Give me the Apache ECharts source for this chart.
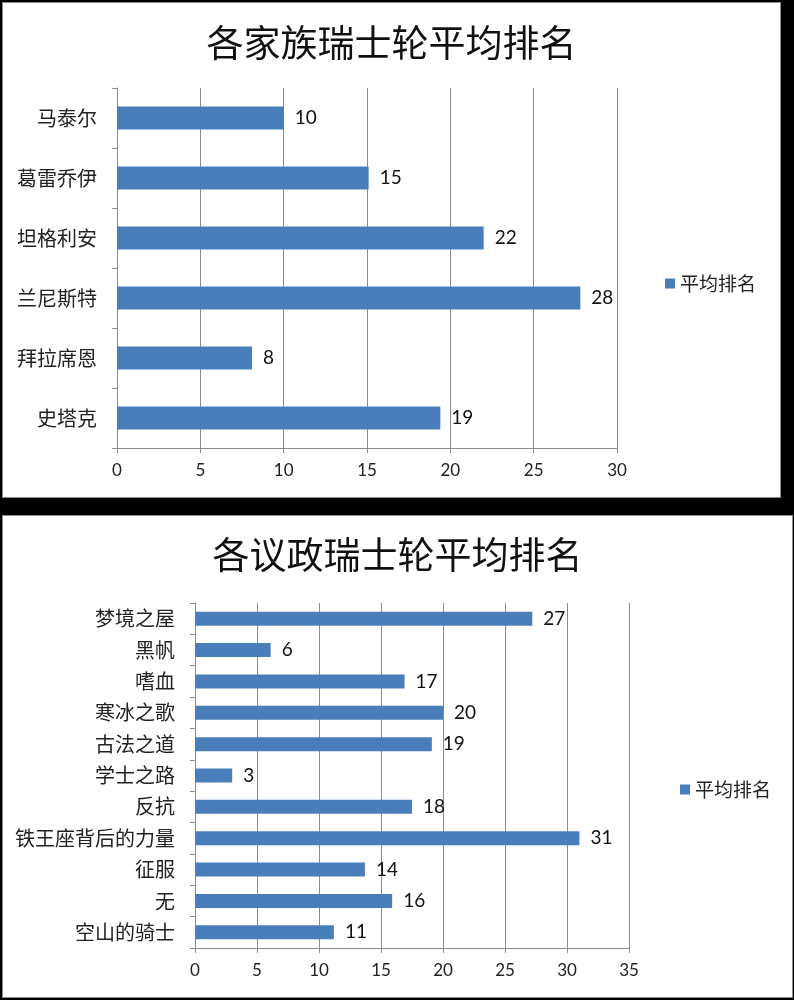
<!DOCTYPE html>
<html>
<head>
<meta charset="utf-8">
<script src="https://cdn.jsdelivr.net/npm/echarts@6/dist/echarts.min.js"></script>
<style>
    body { margin: 0; background: #000; width: 794px; height: 1000px; position: relative; overflow: hidden; }
    .box { position: absolute; background: #fff; border: 1px solid #8a8a8a; box-sizing: border-box; }
    #family { left: 2px; top: 2px; width: 779px; height: 496px; }
    #council { left: 2px; top: 515px; width: 791px; height: 483px; }
</style>
</head>
<body>
<div id="family" class="box"></div>
<div id="council" class="box"></div>
<script>
// 家族
var familyNames = ['马泰尔', '葛雷乔伊', '坦格利安', '兰尼斯特', '拜拉席恩', '史塔克'];
var familyRank = [10, 15.1, 22, 27.8, 8.1, 19.4];
// 议政
var councilNames = ['梦境之屋', '黑帆', '嗜血', '寒冰之歌', '古法之道', '学士之路', '反抗', '铁王座背后的力量', '征服', '无', '空山的骑士'];
var councilRank = [27.2, 6.1, 16.9, 20, 19.1, 3, 17.5, 31, 13.7, 15.9, 11.2];

var cjk = 'Noto Sans CJK SC';
var num = 'Lato, Noto Sans CJK SC';
var barColor = '#4a7ebb';
var lineColor = '#8c8c8c';

function makeOption(title, names, values, max, g, legendPos) {
    return {
        animation: false,
        title: {
            text: title,
            left: 'center',
            top: g.titleTop,
            textStyle: { fontFamily: cjk, fontSize: 37, fontWeight: 'normal', color: '#111' }
        },
        legend: {
            data: ['平均排名'],
            left: legendPos[0],
            top: legendPos[1],
            itemWidth: 10,
            itemHeight: 10,
            itemGap: 6,
            icon: 'rect',
            textStyle: { fontFamily: cjk, fontSize: 19, color: '#222' }
        },
        grid: { left: g.left, top: g.top, width: g.width, height: g.height },
        xAxis: {
            type: 'value',
            min: 0,
            max: max,
            interval: 5,
            axisLine: { show: true, lineStyle: { color: lineColor } },
            axisTick: { show: true, length: 5, lineStyle: { color: lineColor } },
            axisLabel: { fontFamily: num, fontSize: 17, color: '#222', margin: 14 },
            splitLine: { show: true, lineStyle: { color: lineColor, width: 1 } }
        },
        yAxis: {
            type: 'category',
            inverse: true,
            data: names,
            axisLine: { show: true, lineStyle: { color: lineColor } },
            axisTick: { show: true, length: 5, lineStyle: { color: lineColor } },
            axisLabel: { fontFamily: cjk, fontSize: 20, color: '#222', margin: 20 }
        },
        series: [{
            name: '平均排名',
            type: 'bar',
            data: values,
            barWidth: g.barWidth,
            itemStyle: { color: barColor },
            label: {
                show: true,
                position: 'right',
                distance: 11,
                fontFamily: num,
                fontSize: 19,
                color: '#111',
                formatter: function (p) { return Math.round(p.value); }
            }
        }]
    };
}

var family = echarts.init(document.getElementById('family'));
family.setOption(makeOption('各家族瑞士轮平均排名', familyNames, familyRank, 30,
    { titleTop: 16, left: 114, top: 85, width: 500, height: 360, barWidth: 23 }, [657, 266]));

var council = echarts.init(document.getElementById('council'));
council.setOption(makeOption('各议政瑞士轮平均排名', councilNames, councilRank, 35,
    { titleTop: 15, left: 192, top: 87, width: 434, height: 345, barWidth: 14 }, [672, 259]));
</script>
</body>
</html>
